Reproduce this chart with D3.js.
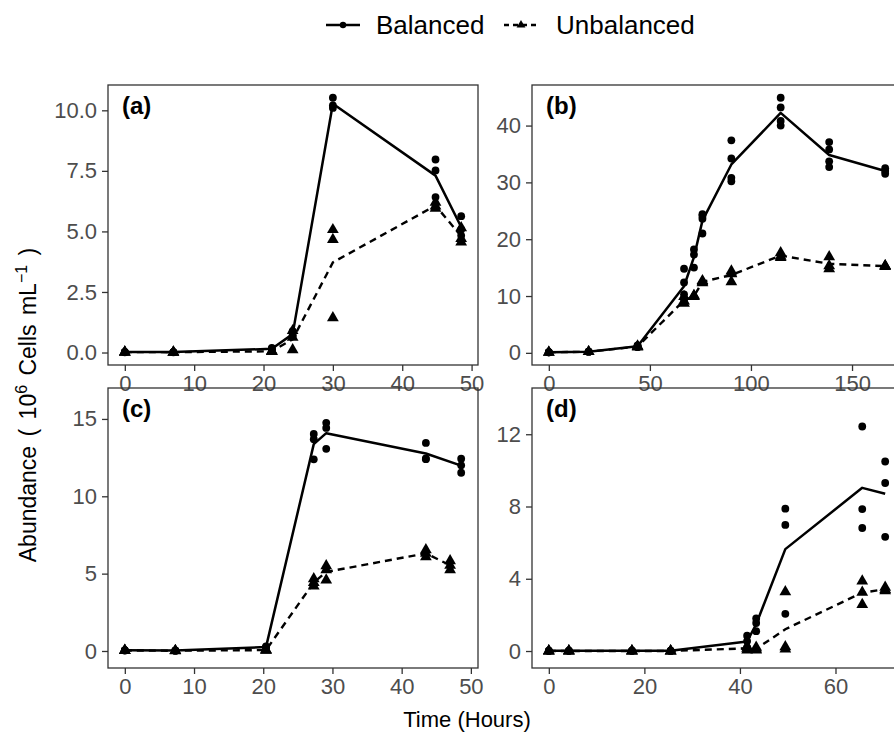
<!DOCTYPE html>
<html>
<head>
<meta charset="utf-8">
<script src="https://cdn.jsdelivr.net/npm/d3@7"></script>
<style>
  body { margin: 0; background: #fff; }
  svg { display: block; font-family: "Liberation Sans", Arial, Helvetica, sans-serif; }
</style>
</head>
<body>
<div id="chart"></div>
<script>
/* ------------------------------------------------------------
   Abundance over time, balanced vs unbalanced, four panels
   ------------------------------------------------------------ */

const seriesNames = ['Balanced', 'Unbalanced'];
const panelLabels = ['(a)', '(b)', '(c)', '(d)'];

// Panel (a)
const aBalTimes = [0, 7, 21.2, 24.2, 30, 44.8, 48.5];
const aBalValues = [[0.03, 0.02, 0.01], [0.02, 0.01, 0.02], [0.19, 0.15, 0.12], [0.88, 0.72, 0.68],
    [10.52, 10.2, 10.1], [7.97, 7.52, 6.42], [5.63, 5.08, 4.83]];
const aUnbTimes = [0, 7, 21.2, 24.2, 30, 44.8, 48.5];
const aUnbValues = [[0.02, 0.01, 0.02], [0.01, 0.01, 0.02], [0.06, 0.05, 0.04], [0.9, 0.63, 0.11],
    [5.07, 4.66, 1.43], [6.2, 6.05, 5.95], [5.15, 4.7, 4.56]];
const aXTicks = [0, 10, 20, 30, 40, 50];
const aYTicks = [0, 2.5, 5, 7.5, 10];

// Panel (b)
const bBalTimes = [0, 19.7, 43.9, 66.9, 71.8, 76, 90.3, 114.7, 138.7, 166.4];
const bBalValues = [[0.1, 0.1, 0.1], [0.2, 0.2, 0.2], [1.3, 1.2, 1.1, 1.0], [14.8, 12.4, 10.3, 9.4],
    [18.2, 17.3, 15.0], [24.4, 24.1, 23.6, 21.0], [37.4, 34.2, 30.8, 30.2], [44.9, 43.2, 40.8, 40.0],
    [37.1, 35.8, 33.7, 32.7], [32.5, 32.0, 31.5]];
const bUnbTimes = [0, 19.7, 43.9, 66.9, 71.8, 76, 90.3, 114.7, 138.7, 166.4];
const bUnbValues = [[0.1, 0.1], [0.2, 0.2], [1.2, 1.0, 1.1], [9.9, 9.1, 8.7],
    [10.1, 10.0, 9.9], [12.7, 12.5, 12.3], [14.4, 14.0, 13.9, 12.5], [17.6, 17.0, 16.75],
    [16.9, 15.3, 14.8], [15.3, 15.3, 15.2]];
const bXTicks = [0, 50, 100, 150];
const bYTicks = [0, 10, 20, 30, 40];

// Panel (c)
const cBalTimes = [0, 7.3, 20.4, 27.3, 29.1, 43.5, 48.6];
const cBalValues = [[0.05, 0.03, 0.04], [0.02, 0.03, 0.02], [0.3, 0.25, 0.2], [14.03, 13.69, 12.39],
    [14.75, 14.42, 13.07], [13.45, 12.45, 12.4], [12.43, 12.0, 11.52]];
const cUnbTimes = [0, 7.3, 20.4, 27.3, 29.1, 43.5, 47.0];
const cUnbValues = [[0.04, 0.03, 0.03], [0.02, 0.02, 0.01], [0.08, 0.05, 0.04], [4.67, 4.42, 4.19],
    [5.5, 5.25, 4.58], [6.54, 6.31, 6.08], [5.83, 5.54, 5.25]];
const cXTicks = [0, 10, 20, 30, 40, 50];
const cYTicks = [0, 5, 10, 15];

// Panel (d)
const dBalTimes = [0, 4.2, 17.4, 25.5, 41.5, 43.4, 49.5, 65.6, 70.4];
const dBalValues = [[0.02, 0.01, 0.0], [0.02, 0.01, 0.01], [0.02, 0.01, 0.01], [0.02, 0.01, 0.0],
    [0.85, 0.55, 0.2], [1.8, 1.55, 1.1], [7.88, 6.98, 2.06], [12.43, 7.86, 6.81], [10.49, 9.3, 6.32]];
const dUnbTimes = [0, 4.2, 17.4, 25.5, 41.5, 43.4, 49.5, 65.6, 70.4];
const dUnbValues = [[0.01, 0.0, 0.0], [0.01, 0.0, 0.0], [0.01, 0.0, 0.0], [0.01, 0.0, 0.0],
    [0.25, 0.15, 0.05], [0.2, 0.1, 0.05], [3.28, 0.23, 0.11], [3.87, 3.25, 2.57], [3.53, 3.4, 3.33]];
const dXTicks = [0, 20, 40, 60];
const dYTicks = [0, 4, 8, 12];

const xTitle = 'Time (Hours)';

/* ---------- layout ---------- */
const W = 894, H = 751;
const panelW = 370, panelH = 280;
const colX = [108, 532];
const rowY = [85, 388];
const INK = '#333333';
const TICK_TEXT = '#4d4d4d';

// bottom row has extra headroom above the data in the original
const panels = [
    { label: panelLabels[0], bal: { t: aBalTimes, v: aBalValues }, unb: { t: aUnbTimes, v: aUnbValues }, xt: aXTicks, yt: aYTicks, yfmt: d3.format('.1f'), ylim: null },
    { label: panelLabels[1], bal: { t: bBalTimes, v: bBalValues }, unb: { t: bUnbTimes, v: bUnbValues }, xt: bXTicks, yt: bYTicks, yfmt: d3.format('d'), ylim: null },
    { label: panelLabels[2], bal: { t: cBalTimes, v: cBalValues }, unb: { t: cUnbTimes, v: cUnbValues }, xt: cXTicks, yt: cYTicks, yfmt: d3.format('d'), ylim: [-1.1, 17.0] },
    { label: panelLabels[3], bal: { t: dBalTimes, v: dBalValues }, unb: { t: dUnbTimes, v: dUnbValues }, xt: dXTicks, yt: dYTicks, yfmt: d3.format('d'), ylim: [-0.94, 14.56] }
];

const svg = d3.select('#chart').append('svg')
    .attr('width', W)
    .attr('height', H);

// ggplot-style 5% expansion of the data range
const expand = ([lo, hi]) => {
    const pad = (hi - lo) * 0.05;
    return [lo - pad, hi + pad];
};

const tri = d3.symbol().type(d3.symbolTriangle).size(60);

function drawPanel(p, i) {
    const x0 = colX[i % 2], y0 = rowY[Math.floor(i / 2)];
    const g = svg.append('g').attr('transform', `translate(${x0},${y0})`);

    const allT = p.bal.t.concat(p.unb.t);
    const allV = p.bal.v.flat().concat(p.unb.v.flat());
    const x = d3.scaleLinear().domain(expand(d3.extent(allT))).range([0, panelW]);
    const y = d3.scaleLinear().domain(p.ylim || expand(d3.extent(allV))).range([panelH, 0]);

    // raw replicate points
    const pts = s => s.t.flatMap((t, k) => s.v[k].map(v => ({ t, v })));

    g.selectAll('circle.pt')
        .data(pts(p.bal))
        .enter().append('circle')
        .attr('class', 'pt')
        .attr('cx', d => x(d.t))
        .attr('cy', d => y(d.v))
        .attr('r', 3.9)
        .attr('fill', '#000');

    g.selectAll('path.pt')
        .data(pts(p.unb))
        .enter().append('path')
        .attr('class', 'pt')
        .attr('d', tri)
        .attr('transform', d => `translate(${x(d.t)},${y(d.v)})`)
        .attr('fill', '#000');

    // mean lines
    const means = s => s.t.map((t, k) => ({ t, m: d3.mean(s.v[k]) }));
    const line = d3.line().x(d => x(d.t)).y(d => y(d.m));

    g.append('path')
        .datum(means(p.unb))
        .attr('d', line)
        .attr('fill', 'none')
        .attr('stroke', '#000')
        .attr('stroke-width', 2.4)
        .attr('stroke-dasharray', '7,5');

    g.append('path')
        .datum(means(p.bal))
        .attr('d', line)
        .attr('fill', 'none')
        .attr('stroke', '#000')
        .attr('stroke-width', 2.5)
        .attr('stroke-linejoin', 'round');

    // panel border
    g.append('rect')
        .attr('width', panelW)
        .attr('height', panelH)
        .attr('fill', 'none')
        .attr('stroke', INK)
        .attr('stroke-width', 1.3);

    // axes
    const xa = g.append('g')
        .attr('transform', `translate(0,${panelH})`)
        .call(d3.axisBottom(x).tickValues(p.xt).tickSize(6).tickPadding(4).tickFormat(d3.format('d')));
    const ya = g.append('g')
        .call(d3.axisLeft(y).tickValues(p.yt).tickSize(6).tickPadding(5).tickFormat(p.yfmt));

    [xa, ya].forEach(a => {
        a.select('.domain').remove();
        a.selectAll('.tick line').attr('stroke', INK).attr('stroke-width', 1.3);
        a.selectAll('.tick text')
            .attr('fill', TICK_TEXT)
            .style('font-size', '22px')
            .style('font-family', '"Liberation Sans", Arial, sans-serif');
    });

    // panel tag
    g.append('text')
        .attr('x', 14)
        .attr('y', 29)
        .attr('font-size', 24)
        .attr('font-weight', 'bold')
        .attr('fill', '#000')
        .text(p.label);
}

panels.forEach(drawPanel);

// x axis title
svg.append('text')
    .attr('x', 467)
    .attr('y', 727)
    .attr('text-anchor', 'middle')
    .attr('font-size', 22)
    .attr('fill', '#000')
    .text(xTitle);

// y axis title with superscripts
const yt = svg.append('text')
    .attr('transform', 'translate(36,405) rotate(-90)')
    .attr('text-anchor', 'middle')
    .attr('font-size', 23)
    .attr('fill', '#000')
    .style('word-spacing', '3px');
yt.append('tspan').text('Abundance ( 10');
yt.append('tspan').attr('font-size', 16).attr('dy', -9).text('6');
yt.append('tspan').attr('dy', 9).text(' Cells mL');
yt.append('tspan').attr('font-size', 16).attr('dy', -9).text('\u22121');
yt.append('tspan').attr('dy', 9).text(' )');

// legend
const legend = svg.append('g').attr('transform', 'translate(0,25)');
const keys = [
    { name: seriesNames[0], x: 326, tx: 376, dash: null, shape: 'circle' },
    { name: seriesNames[1], x: 504, tx: 556, dash: '5,4', shape: 'triangle' }
];
keys.forEach(k => {
    legend.append('line')
        .attr('x1', k.x).attr('x2', k.x + 34)
        .attr('y1', 0).attr('y2', 0)
        .attr('stroke', '#000')
        .attr('stroke-width', 2.4)
        .attr('stroke-dasharray', k.dash);
    if (k.shape === 'circle') {
        legend.append('circle').attr('cx', k.x + 17).attr('cy', 0).attr('r', 3.2);
    } else {
        legend.append('path')
            .attr('d', d3.symbol().type(d3.symbolTriangle).size(34))
            .attr('transform', `translate(${k.x + 17},0)`);
    }
    legend.append('text')
        .attr('x', k.tx)
        .attr('y', 9)
        .attr('font-size', 26)
        .attr('fill', '#000')
        .text(k.name);
});
</script>
</body>
</html>
